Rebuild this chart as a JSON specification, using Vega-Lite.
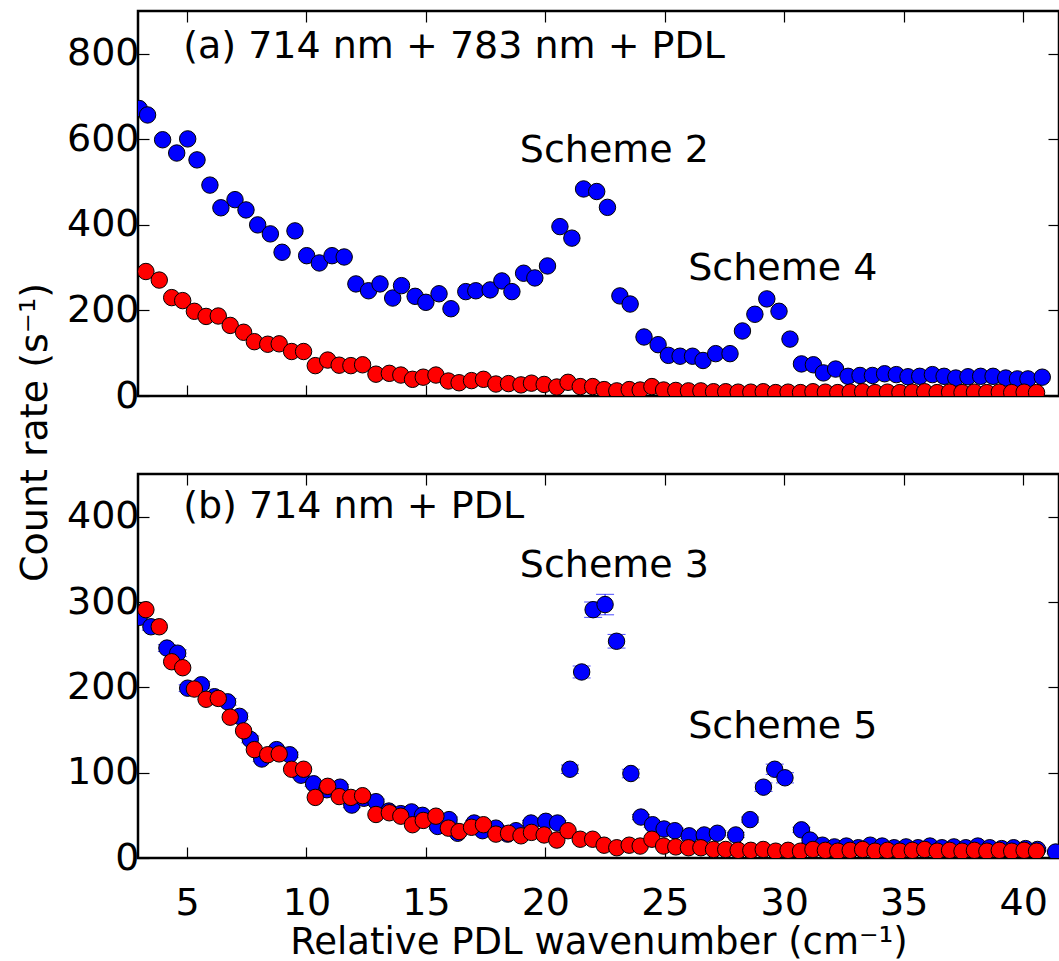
{
  "$schema": "https://vega.github.io/schema/vega-lite/v6.json",
  "padding": {"left": 14, "top": 9, "right": 1, "bottom": 1},
  "background": "white",
  "spacing": 78,
  "bounds": "flush",
  "datasets": {
    "topBlue": [
      {"x": 3.0, "y": 672}, {"x": 3.35, "y": 657}, {"x": 3.98, "y": 599}, {"x": 4.57, "y": 568}, {"x": 5.03, "y": 601},
      {"x": 5.42, "y": 552}, {"x": 5.96, "y": 493}, {"x": 6.42, "y": 440}, {"x": 7.01, "y": 459}, {"x": 7.47, "y": 435},
      {"x": 7.96, "y": 400}, {"x": 8.49, "y": 379}, {"x": 8.98, "y": 336}, {"x": 9.52, "y": 386}, {"x": 10.01, "y": 328},
      {"x": 10.54, "y": 311}, {"x": 11.07, "y": 328}, {"x": 11.58, "y": 325}, {"x": 12.07, "y": 262}, {"x": 12.6, "y": 246},
      {"x": 13.08, "y": 262}, {"x": 13.61, "y": 229}, {"x": 13.98, "y": 258}, {"x": 14.55, "y": 233}, {"x": 15.0, "y": 219},
      {"x": 15.55, "y": 239}, {"x": 16.05, "y": 204}, {"x": 16.67, "y": 244}, {"x": 17.09, "y": 246}, {"x": 17.69, "y": 248},
      {"x": 18.18, "y": 269}, {"x": 18.6, "y": 244}, {"x": 19.09, "y": 287}, {"x": 19.56, "y": 276}, {"x": 20.09, "y": 304},
      {"x": 20.61, "y": 396}, {"x": 21.11, "y": 369}, {"x": 21.6, "y": 484}, {"x": 22.15, "y": 478}, {"x": 22.6, "y": 441},
      {"x": 23.12, "y": 234}, {"x": 23.55, "y": 215}, {"x": 24.13, "y": 138}, {"x": 24.72, "y": 120}, {"x": 25.15, "y": 95},
      {"x": 25.64, "y": 93}, {"x": 26.16, "y": 93}, {"x": 26.6, "y": 83}, {"x": 27.13, "y": 99}, {"x": 27.73, "y": 99},
      {"x": 28.25, "y": 152}, {"x": 28.77, "y": 191}, {"x": 29.27, "y": 227}, {"x": 29.78, "y": 198}, {"x": 30.24, "y": 133},
      {"x": 30.72, "y": 75}, {"x": 31.22, "y": 73}, {"x": 31.64, "y": 54}, {"x": 32.15, "y": 63}, {"x": 32.67, "y": 46},
      {"x": 33.17, "y": 48}, {"x": 33.69, "y": 48}, {"x": 34.2, "y": 52}, {"x": 34.69, "y": 50}, {"x": 35.18, "y": 45},
      {"x": 35.67, "y": 46}, {"x": 36.2, "y": 50}, {"x": 36.69, "y": 46}, {"x": 37.18, "y": 42}, {"x": 37.69, "y": 45},
      {"x": 38.22, "y": 46}, {"x": 38.74, "y": 46}, {"x": 39.27, "y": 42}, {"x": 39.76, "y": 40}, {"x": 40.2, "y": 40},
      {"x": 40.8, "y": 44}
    ],
    "red": [
      {"x": 3.28, "y": 291}, {"x": 3.84, "y": 271}, {"x": 4.36, "y": 230}, {"x": 4.82, "y": 223}, {"x": 5.31, "y": 198},
      {"x": 5.8, "y": 186}, {"x": 6.31, "y": 187}, {"x": 6.81, "y": 165}, {"x": 7.37, "y": 149}, {"x": 7.82, "y": 127},
      {"x": 8.38, "y": 121}, {"x": 8.86, "y": 122}, {"x": 9.38, "y": 104}, {"x": 9.88, "y": 104}, {"x": 10.37, "y": 71},
      {"x": 10.89, "y": 84}, {"x": 11.37, "y": 72}, {"x": 11.86, "y": 71}, {"x": 12.35, "y": 73}, {"x": 12.91, "y": 51},
      {"x": 13.47, "y": 53}, {"x": 13.95, "y": 49}, {"x": 14.44, "y": 39}, {"x": 14.89, "y": 44}, {"x": 15.42, "y": 49},
      {"x": 15.94, "y": 35}, {"x": 16.39, "y": 31}, {"x": 16.91, "y": 36}, {"x": 17.41, "y": 39}, {"x": 17.93, "y": 28},
      {"x": 18.46, "y": 29}, {"x": 18.98, "y": 26}, {"x": 19.42, "y": 30}, {"x": 19.95, "y": 27}, {"x": 20.48, "y": 21},
      {"x": 20.95, "y": 32}, {"x": 21.46, "y": 22}, {"x": 21.98, "y": 22}, {"x": 22.46, "y": 15}, {"x": 22.99, "y": 12},
      {"x": 23.51, "y": 15}, {"x": 23.97, "y": 14}, {"x": 24.46, "y": 22}, {"x": 24.95, "y": 14}, {"x": 25.46, "y": 13},
      {"x": 25.99, "y": 12}, {"x": 26.51, "y": 12}, {"x": 27.04, "y": 10}, {"x": 27.55, "y": 10}, {"x": 28.07, "y": 9},
      {"x": 28.6, "y": 9}, {"x": 29.12, "y": 10}, {"x": 29.64, "y": 8}, {"x": 30.16, "y": 9}, {"x": 30.68, "y": 8},
      {"x": 31.2, "y": 10}, {"x": 31.72, "y": 9}, {"x": 32.24, "y": 8}, {"x": 32.76, "y": 9}, {"x": 33.28, "y": 10},
      {"x": 33.8, "y": 8}, {"x": 34.32, "y": 9}, {"x": 34.84, "y": 8}, {"x": 35.36, "y": 9}, {"x": 35.88, "y": 10},
      {"x": 36.4, "y": 8}, {"x": 36.92, "y": 9}, {"x": 37.44, "y": 8}, {"x": 37.96, "y": 9}, {"x": 38.48, "y": 8},
      {"x": 39.0, "y": 9}, {"x": 39.52, "y": 8}, {"x": 40.04, "y": 9}, {"x": 40.56, "y": 8}
    ],
    "bottomBlue": [
      {"x": 3.0, "y": 282, "err": 4}, {"x": 3.49, "y": 271, "err": 4}, {"x": 4.16, "y": 246, "err": 4}, {"x": 4.61, "y": 240, "err": 4},
      {"x": 5.03, "y": 199, "err": 4}, {"x": 5.6, "y": 203, "err": 4}, {"x": 6.15, "y": 189, "err": 4}, {"x": 6.7, "y": 183, "err": 4},
      {"x": 7.2, "y": 166, "err": 4}, {"x": 7.65, "y": 139, "err": 4}, {"x": 8.13, "y": 116, "err": 3}, {"x": 8.75, "y": 127, "err": 3},
      {"x": 9.3, "y": 121, "err": 3}, {"x": 9.77, "y": 97, "err": 3}, {"x": 10.3, "y": 87, "err": 3}, {"x": 10.85, "y": 80, "err": 3},
      {"x": 11.41, "y": 83, "err": 3}, {"x": 11.9, "y": 62, "err": 3}, {"x": 12.4, "y": 70, "err": 3}, {"x": 12.91, "y": 66, "err": 3},
      {"x": 13.45, "y": 55, "err": 3}, {"x": 13.95, "y": 52, "err": 3}, {"x": 14.4, "y": 54, "err": 3}, {"x": 14.86, "y": 50, "err": 3},
      {"x": 15.49, "y": 37, "err": 3}, {"x": 15.97, "y": 45, "err": 3}, {"x": 16.33, "y": 29, "err": 3}, {"x": 17.02, "y": 41, "err": 3},
      {"x": 17.37, "y": 32, "err": 3}, {"x": 17.93, "y": 35, "err": 3}, {"x": 18.42, "y": 28, "err": 3}, {"x": 18.77, "y": 32, "err": 3},
      {"x": 19.4, "y": 41, "err": 3}, {"x": 20.02, "y": 43, "err": 3}, {"x": 20.51, "y": 41, "err": 3}, {"x": 21.03, "y": 104, "err": 5},
      {"x": 21.52, "y": 218, "err": 7}, {"x": 22.0, "y": 291, "err": 9}, {"x": 22.5, "y": 297, "err": 12}, {"x": 22.98, "y": 254, "err": 8},
      {"x": 23.58, "y": 99, "err": 5}, {"x": 24.0, "y": 48, "err": 3}, {"x": 24.49, "y": 39, "err": 3}, {"x": 24.97, "y": 34, "err": 3},
      {"x": 25.42, "y": 32, "err": 3}, {"x": 26.02, "y": 26, "err": 3}, {"x": 26.65, "y": 27, "err": 3}, {"x": 27.2, "y": 29, "err": 3},
      {"x": 27.97, "y": 27, "err": 3}, {"x": 28.57, "y": 45, "err": 3}, {"x": 29.13, "y": 83, "err": 5}, {"x": 29.6, "y": 104, "err": 6},
      {"x": 30.03, "y": 94, "err": 6}, {"x": 30.72, "y": 33, "err": 3}, {"x": 31.08, "y": 21, "err": 3}, {"x": 31.6, "y": 15, "err": 2},
      {"x": 32.1, "y": 13, "err": 2}, {"x": 32.6, "y": 14, "err": 2}, {"x": 33.1, "y": 12, "err": 2}, {"x": 33.6, "y": 15, "err": 2},
      {"x": 34.1, "y": 14, "err": 2}, {"x": 34.6, "y": 12, "err": 2}, {"x": 35.1, "y": 13, "err": 2}, {"x": 35.6, "y": 12, "err": 2},
      {"x": 36.1, "y": 14, "err": 2}, {"x": 36.6, "y": 12, "err": 2}, {"x": 37.1, "y": 13, "err": 2}, {"x": 37.6, "y": 12, "err": 2},
      {"x": 38.1, "y": 14, "err": 2}, {"x": 38.6, "y": 12, "err": 2}, {"x": 39.1, "y": 11, "err": 2}, {"x": 39.6, "y": 12, "err": 2},
      {"x": 40.1, "y": 11, "err": 2}, {"x": 40.6, "y": 10, "err": 2}, {"x": 41.36, "y": 7, "err": 2}
    ],
    "topLabels": [
      {"x": 4.84, "y": 790, "label": "(a) 714 nm + 783 nm + PDL"},
      {"x": 18.93, "y": 548, "label": "Scheme 2"},
      {"x": 25.98, "y": 272, "label": "Scheme 4"}
    ],
    "bottomLabels": [
      {"x": 4.84, "y": 398, "label": "(b) 714 nm + PDL"},
      {"x": 18.93, "y": 329, "label": "Scheme 3"},
      {"x": 25.98, "y": 141, "label": "Scheme 5"}
    ]
  },
  "vconcat": [
    {
      "width": 921,
      "height": 385,
      "layer": [
        {
          "data": {"name": "topBlue"},
          "mark": {"type": "circle", "size": 270, "color": "#0000ff", "stroke": "black", "strokeWidth": 1, "opacity": 1, "clip": true},
          "encoding": {
            "x": {"field": "x", "type": "quantitative", "scale": {"domain": [2.95, 41.5], "nice": false, "zero": false},
                  "axis": {"orient": "bottom", "values": [5, 10, 15, 20, 25, 30, 35, 40], "labels": false, "title": null}},
            "y": {"field": "y", "type": "quantitative", "scale": {"domain": [0, 900], "nice": false},
                  "axis": {"orient": "left", "values": [0, 200, 400, 600, 800], "title": "Count rate (s⁻¹)", "titleX": -92, "titleY": 421, "titleBaseline": "alphabetic", "titleAngle": 270}}
          }
        },
        {
          "data": {"name": "red"},
          "mark": {"type": "circle", "size": 270, "color": "#ff0000", "stroke": "black", "strokeWidth": 1, "opacity": 1, "clip": true},
          "encoding": {
            "x": {"field": "x", "type": "quantitative", "scale": {"domain": [2.95, 41.5], "nice": false, "zero": false},
                  "axis": {"orient": "top", "values": [5, 10, 15, 20, 25, 30, 35, 40], "labels": false, "title": null}},
            "y": {"field": "y", "type": "quantitative", "scale": {"domain": [0, 900], "nice": false},
                  "axis": {"orient": "right", "values": [0, 200, 400, 600, 800], "labels": false, "title": null}}
          }
        },
        {
          "data": {"name": "topLabels"},
          "mark": {"type": "text", "align": "left", "baseline": "alphabetic", "fontSize": 38, "font": "DejaVu Sans", "color": "black"},
          "encoding": {
            "x": {"field": "x", "type": "quantitative", "scale": {"domain": [2.95, 41.5], "nice": false, "zero": false}, "axis": null},
            "y": {"field": "y", "type": "quantitative", "scale": {"domain": [0, 900], "nice": false}, "axis": null},
            "text": {"field": "label"}
          }
        }
      ],
      "resolve": {"axis": {"x": "independent", "y": "independent"}}
    },
    {
      "width": 921,
      "height": 384,
      "layer": [
        {
          "data": {"name": "bottomBlue"},
          "mark": {"type": "errorbar", "ticks": {"size": 18, "color": "#0000ff"}, "rule": {"color": "#0000ff"}, "clip": true},
          "encoding": {
            "x": {"field": "x", "type": "quantitative", "scale": {"domain": [2.95, 41.5], "nice": false, "zero": false}, "axis": null},
            "y": {"field": "y", "type": "quantitative", "scale": {"domain": [0, 450], "nice": false}, "axis": null},
            "yError": {"field": "err"}
          }
        },
        {
          "data": {"name": "bottomBlue"},
          "mark": {"type": "circle", "size": 270, "color": "#0000ff", "stroke": "black", "strokeWidth": 1, "opacity": 1, "clip": true},
          "encoding": {
            "x": {"field": "x", "type": "quantitative", "scale": {"domain": [2.95, 41.5], "nice": false, "zero": false},
                  "axis": {"orient": "bottom", "values": [5, 10, 15, 20, 25, 30, 35, 40], "title": "Relative PDL wavenumber (cm⁻¹)", "labelPadding": 37, "titlePadding": 2, "titleFontSize": 37}},
            "y": {"field": "y", "type": "quantitative", "scale": {"domain": [0, 450], "nice": false},
                  "axis": {"orient": "left", "values": [0, 100, 200, 300, 400], "title": null}}
          }
        },
        {
          "data": {"name": "red"},
          "mark": {"type": "circle", "size": 270, "color": "#ff0000", "stroke": "black", "strokeWidth": 1, "opacity": 1, "clip": true},
          "encoding": {
            "x": {"field": "x", "type": "quantitative", "scale": {"domain": [2.95, 41.5], "nice": false, "zero": false},
                  "axis": {"orient": "top", "values": [5, 10, 15, 20, 25, 30, 35, 40], "labels": false, "title": null}},
            "y": {"field": "y", "type": "quantitative", "scale": {"domain": [0, 450], "nice": false},
                  "axis": {"orient": "right", "values": [0, 100, 200, 300, 400], "labels": false, "title": null}}
          }
        },
        {
          "data": {"name": "bottomLabels"},
          "mark": {"type": "text", "align": "left", "baseline": "alphabetic", "fontSize": 38, "font": "DejaVu Sans", "color": "black"},
          "encoding": {
            "x": {"field": "x", "type": "quantitative", "scale": {"domain": [2.95, 41.5], "nice": false, "zero": false}, "axis": null},
            "y": {"field": "y", "type": "quantitative", "scale": {"domain": [0, 450], "nice": false}, "axis": null},
            "text": {"field": "label"}
          }
        }
      ],
      "resolve": {"axis": {"x": "independent", "y": "independent"}}
    }
  ],
  "config": {
    "font": "DejaVu Sans",
    "view": {"stroke": "black", "strokeWidth": 2.5},
    "axis": {
      "grid": false,
      "domain": false,
      "tickColor": "black",
      "tickWidth": 1.2,
      "tickSize": -11,
      "labelFont": "DejaVu Sans",
      "labelFontSize": 38,
      "labelColor": "black",
      "labelOverlap": false,
      "labelFlush": false,
      "labelPadding": 10,
      "titleFont": "DejaVu Sans",
      "titleFontSize": 38,
      "titleFontWeight": "normal",
      "titleColor": "black"
    }
  }
}
